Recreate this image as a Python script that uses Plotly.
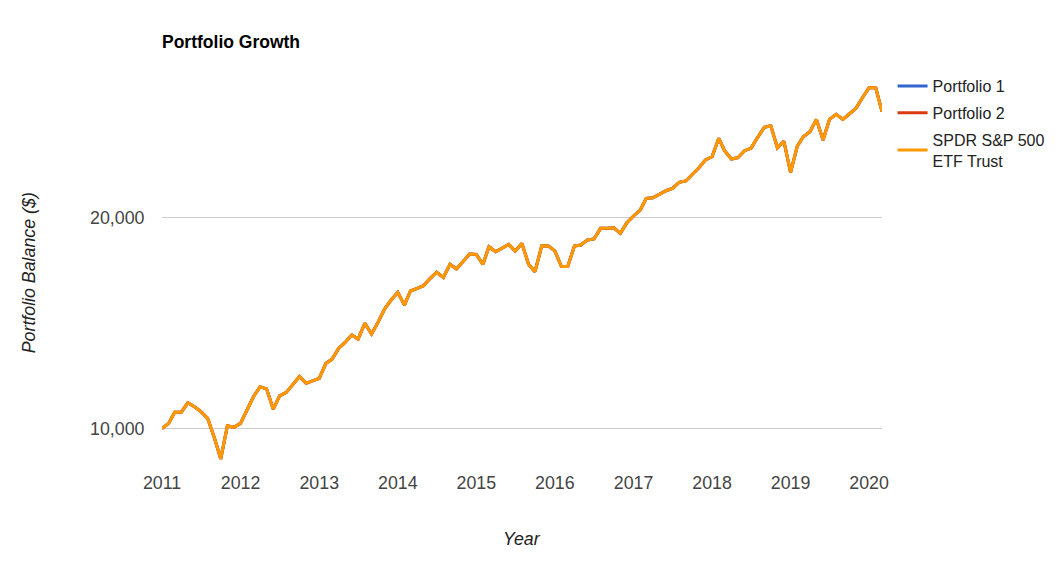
import pandas as pd
import plotly.graph_objects as go

# ---- data (monthly balances, Jan 2011 .. Mar 2020) ----
dates = pd.date_range("2011-01-01", periods=111, freq="MS")

spdr = [
    10000, 10170, 10550, 10550, 10880, 10740, 10570, 10340, 9710, 9050, 10090, 10040,
    10170, 10630, 11100, 11470, 11390, 10660, 11130, 11260, 11570, 11860, 11600, 11690,
    11790, 12390, 12550, 13010, 13270, 13600, 13420, 14130, 13640, 14170, 14810, 15250,
    15640, 15000, 15710, 15850, 15990, 16380, 16710, 16430, 17150, 16890, 17300, 17740,
    17720, 17150, 18170, 17880, 18080, 18310, 17920, 18370, 17150, 16740, 18210, 18230,
    17920, 17020, 17020, 18210, 18270, 18580, 18640, 19300, 19300, 19340, 18990, 19660,
    20100, 20500, 21300, 21340, 21580, 21840, 22010, 22450, 22550, 23000, 23550, 24160,
    24420, 25940, 24880, 24240, 24340, 24910, 25100, 26030, 26900, 27040, 25140, 25690,
    23190, 25270, 26080, 26510, 27610, 25800, 27610, 28070, 27610, 28100, 28630, 29640,
    30630, 30630, 28310,
]
portfolio1 = list(spdr)
portfolio2 = list(spdr)

series_names = ["Portfolio 1", "Portfolio 2", "SPDR S&P 500<br>ETF Trust"]
series_values = [portfolio1, portfolio2, spdr]
series_colors = ["#3366cc", "#dc3912", "#ff9900"]

y_tick_vals = [10000, 20000]
y_tick_text = ["10,000", "20,000"]
x_tick_vals = pd.date_range("2011-01-01", "2020-01-01", freq="YS")
x_tick_text = [str(d.year) for d in x_tick_vals]

FONT = "Liberation Sans, Arial, sans-serif"

fig = go.Figure()
for i, (name, vals, col) in enumerate(zip(series_names, series_values, series_colors)):
    fig.add_trace(go.Scatter(
        x=dates, y=vals, mode="lines", name=name, legendgroup=f"g{i}",
        line=dict(color=col, width=3),
    ))

fig.update_layout(
    width=1062, height=562,
    margin=dict(l=162, r=173, t=75, b=92),
    paper_bgcolor="white", plot_bgcolor="white",
    font=dict(family=FONT, size=16, color="#444"),
    title=dict(text="<b>Portfolio Growth</b>", x=162/1062, xanchor="left",
               xref="container", y=1-42/562, yanchor="middle", yref="container",
               font=dict(family=FONT, size=17.5, color="#000")),
    showlegend=True,
    legend=dict(x=1.0147, xanchor="left", y=1.0152, yanchor="top",
                font=dict(family=FONT, size=16, color="#222"),
                bgcolor="rgba(0,0,0,0)", borderwidth=0, tracegroupgap=3),
    xaxis=dict(
        type="date", range=["2011-01-01", "2020-03-01"],
        tickvals=x_tick_vals, ticktext=x_tick_text,
        showgrid=False, zeroline=False, showline=False,
        ticks="",
        tickfont=dict(size=17.8, color="#444"),
    ),
    yaxis=dict(
        type="log", range=[3.94079, 4.50436],
        tickvals=y_tick_vals, ticktext=y_tick_text,
        showgrid=True, gridcolor="#cccccc", gridwidth=1,
        zeroline=False, showline=False,
        ticks="outside", ticklen=13, tickcolor="rgba(0,0,0,0)",
        tickfont=dict(size=17.8, color="#444"),
    ),
    annotations=[
        dict(text="<i>Portfolio Balance ($)</i>", xref="paper", yref="paper",
             x=(27.5-162)/727, y=(470-272.5)/395, xanchor="center", yanchor="middle",
             textangle=-90, showarrow=False,
             font=dict(family=FONT, size=17.8, color="#222")),
        dict(text="<i>Year</i>", xref="paper", yref="paper",
             x=(525-162)/727, y=(470-539)/395, xanchor="center", yanchor="middle",
             showarrow=False, font=dict(family=FONT, size=17.8, color="#222")),
    ],
)

fig.write_html("out.html", config={"displayModeBar": False},
               post_script="document.body.style.margin='0';")
